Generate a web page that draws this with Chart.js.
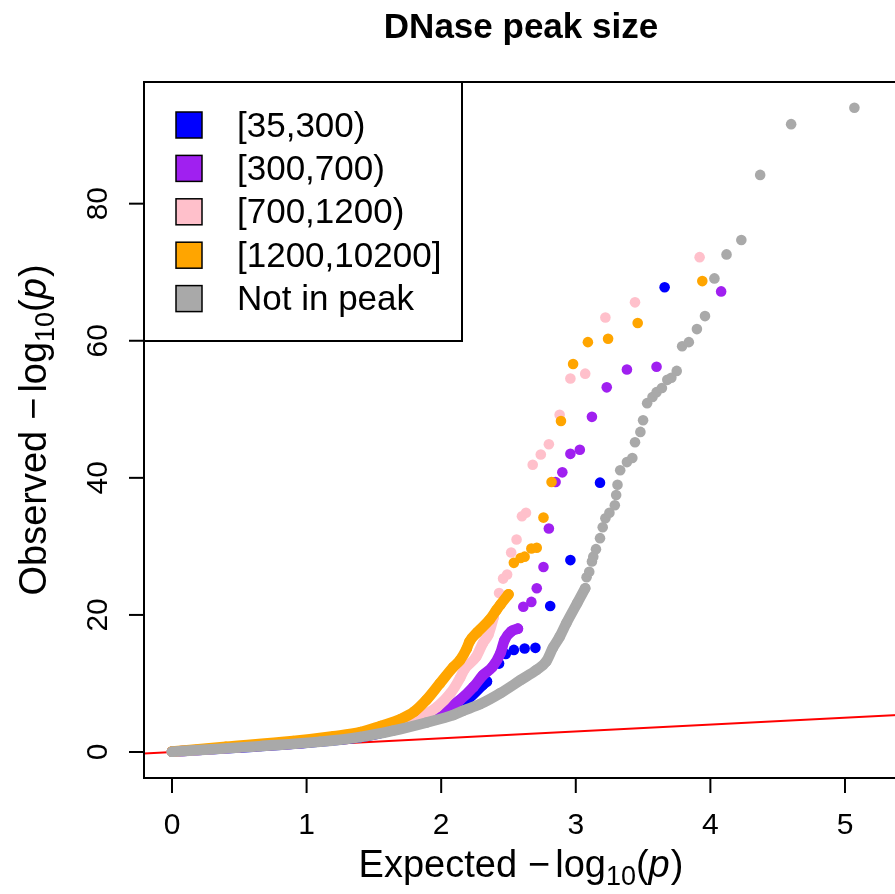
<!DOCTYPE html>
<html>
<head>
<meta charset="utf-8">
<script src="https://cdn.jsdelivr.net/npm/chart.js@4.4.0/dist/chart.umd.min.js"></script>
<style>
  html, body { margin: 0; padding: 0; overflow: hidden; background: #fff; }
  canvas { display: block; }
</style>
</head>
<body>
<canvas id="qq" width="905" height="894"></canvas>
<script>
// legend / series info
const seriesNames = ['[35,300)', '[300,700)', '[700,1200)', '[1200,10200]', 'Not in peak'];
const seriesColors = ['#0000FF', '#A020F0', '#FFC0CB', '#FFA500', '#A9A9A9'];
const xTicks = [0, 1, 2, 3, 4, 5];
const yTicks = [0, 20, 40, 60, 80];
const refLine = [-0.5, 6];   // y = x

// dense part of each curve (points overlap into a band), [expected, observed]
const blueBand = [[0, 0.05], [0.5, 0.65], [1.0, 1.35], [1.4, 2.2], [1.64, 3.2], [1.84, 4.3], [1.99, 5.5],
  [2.09, 6.6], [2.19, 7.6], [2.31, 9.8], [2.34, 10.3]];
const purpleBand = [[0, 0.05], [0.5, 0.7], [1.0, 1.4], [1.4, 2.3], [1.64, 3.3], [1.84, 4.4], [1.99, 5.6],
  [2.14, 7.6], [2.24, 9.5], [2.31, 11.2], [2.38, 12.4], [2.44, 14.4], [2.47, 16.3], [2.52, 17.6], [2.57, 18.0]];
const pinkBand = [[0, 0.05], [0.5, 0.75], [1.0, 1.5], [1.4, 2.6], [1.64, 3.7], [1.84, 5.1], [1.97, 6.6],
  [2.07, 8.6], [2.14, 10.8], [2.17, 12.0], [2.26, 13.9], [2.31, 15.9], [2.35, 17.1], [2.39, 19.7]];
const orangeBand = [[0, 0.08], [0.4, 0.75], [0.9, 1.6], [1.2, 2.3], [1.4, 2.9], [1.55, 3.8], [1.7, 4.8],
  [1.8, 5.9], [1.89, 7.6], [1.99, 10.0], [2.09, 12.4], [2.14, 13.4], [2.19, 15.1], [2.21, 16.1], [2.27, 17.5],
  [2.36, 19.3], [2.41, 20.7], [2.44, 21.5], [2.5, 23.0]];
const greyBand = [[0, 0.05], [0.3, 0.4], [0.65, 0.85], [1.1, 1.5], [1.4, 2.2], [1.64, 3.1], [1.89, 4.3],
  [2.09, 5.4], [2.16, 6.0], [2.29, 7.0], [2.44, 8.6], [2.59, 10.5], [2.71, 12.0], [2.78, 13.2], [2.83, 15.2],
  [2.88, 16.8], [2.93, 18.8], [3.01, 21.7], [3.07, 23.9]];

// sparse upper tails
const blueTail = [[2.43, 12.9], [2.48, 14.3], [2.54, 14.9], [2.62, 15.1], [2.7, 15.2], [2.81, 21.3],
  [2.96, 28.0], [3.18, 39.3], [3.66, 67.8]];
const purpleTail = [[2.61, 21.2], [2.67, 21.9], [2.71, 23.9], [2.76, 27.0], [2.8, 32.6], [2.85, 39.4],
  [2.9, 40.8], [2.96, 43.5], [3.03, 44.1], [3.12, 48.9], [3.23, 53.2], [3.38, 55.8], [3.6, 56.2], [4.08, 67.2]];
const pinkTail = [[2.43, 23.2], [2.46, 25.3], [2.49, 25.9], [2.52, 29.1], [2.56, 31.0], [2.6, 34.4],
  [2.63, 34.9], [2.68, 41.9], [2.74, 43.4], [2.8, 44.9], [2.88, 49.2], [2.96, 54.5], [3.07, 55.2],
  [3.22, 63.4], [3.44, 65.6], [3.92, 72.2]];
const orangeTail = [[2.54, 27.6], [2.59, 28.3], [2.62, 28.5], [2.67, 29.7], [2.71, 29.8], [2.76, 34.2],
  [2.82, 39.4], [2.89, 48.3], [2.98, 56.6], [3.09, 59.8], [3.24, 60.3], [3.46, 62.6], [3.94, 68.7]];
const greyTail = [[3.08, 25.5], [3.1, 26.3], [3.12, 27.8], [3.13, 28.5], [3.15, 29.6], [3.18, 31.2],
  [3.2, 32.8], [3.22, 34.1], [3.25, 34.9], [3.29, 36.0], [3.3, 37.5], [3.31, 39.0], [3.33, 41.1],
  [3.38, 42.3], [3.42, 42.9], [3.44, 45.2], [3.48, 46.7], [3.5, 48.4], [3.53, 50.9], [3.57, 51.8],
  [3.6, 52.5], [3.64, 53.1], [3.68, 54.3], [3.71, 54.6], [3.75, 55.6], [3.79, 59.2], [3.84, 59.8],
  [3.9, 61.7], [3.96, 63.6], [4.03, 69.1], [4.12, 72.6], [4.23, 74.7], [4.37, 84.2], [4.6, 91.6], [5.07, 94.0]];

const bands = [blueBand, purpleBand, pinkBand, orangeBand, greyBand];
const tails = [blueTail, purpleTail, pinkTail, orangeTail, greyTail];

const FONT = '"Liberation Sans", Arial, Helvetica, sans-serif';
const toPts = arr => arr.map(p => ({ x: p[0], y: p[1] }));

const datasets = [];
// grey drawn last (on top), blue first
const drawOrder = [4, 3, 2, 1, 0];
seriesNames.forEach((name, i) => {
  datasets.push({
    label: name,
    data: toPts(bands[i]),
    showLine: true,
    cubicInterpolationMode: 'monotone',
    borderColor: seriesColors[i],
    backgroundColor: seriesColors[i],
    borderWidth: 10.6,
    borderCapStyle: 'round',
    borderJoinStyle: 'round',
    pointRadius: 5.3,
    pointBorderWidth: 0,
    order: drawOrder[i]
  });
  datasets.push({
    label: name + ' tail',
    data: toPts(tails[i]),
    showLine: false,
    backgroundColor: seriesColors[i],
    pointRadius: 5.3,
    pointBorderWidth: 0,
    order: drawOrder[i]
  });
});
datasets.push({
  label: 'y = x',
  data: refLine.map(v => ({ x: v, y: v })),
  showLine: true,
  borderColor: '#FF0000',
  borderWidth: 2,
  pointRadius: 0,
  order: 10
});

function drawLogLabel(ctx, prefix, cx, baseline) {
  const big = 38, small = 27;
  const parts = [
    { t: prefix, f: big + 'px ' + FONT, dy: 0, gap: 11 },
    { t: '\u2212', f: big + 'px ' + FONT, dy: 0, gap: 5 },
    { t: 'log', f: big + 'px ' + FONT, dy: 0, gap: 0 },
    { t: '10', f: small + 'px ' + FONT, dy: 8, gap: 0 },
    { t: '(', f: big + 'px ' + FONT, dy: 0, gap: 0 },
    { t: 'p', f: 'italic ' + big + 'px ' + FONT, dy: 0, gap: 1 },
    { t: ')', f: big + 'px ' + FONT, dy: 0, gap: 0 }
  ];
  let total = 0;
  parts.forEach(p => { ctx.font = p.f; p.w = ctx.measureText(p.t).width; total += p.w + p.gap; });
  let x = cx - total / 2;
  ctx.textAlign = 'left';
  ctx.textBaseline = 'alphabetic';
  parts.forEach(p => { ctx.font = p.f; ctx.fillText(p.t, x, baseline + p.dy); x += p.w + p.gap; });
}

const frame = {
  id: 'frame',
  afterDraw(chart) {
    const ctx = chart.ctx, a = chart.chartArea;
    const xs = chart.scales.x, ys = chart.scales.y;
    ctx.save();
    ctx.strokeStyle = '#000';
    ctx.fillStyle = '#000';
    ctx.lineWidth = 2;
    ctx.strokeRect(a.left, a.top, a.right - a.left, a.bottom - a.top);

    // x axis
    ctx.font = '30px ' + FONT;
    ctx.textAlign = 'center';
    ctx.textBaseline = 'alphabetic';
    xTicks.forEach(v => {
      const px = xs.getPixelForValue(v);
      ctx.beginPath(); ctx.moveTo(px, a.bottom); ctx.lineTo(px, a.bottom + 15); ctx.stroke();
      ctx.fillText(String(v), px, a.bottom + 56);
    });
    // y axis
    yTicks.forEach(v => {
      const py = ys.getPixelForValue(v);
      ctx.beginPath(); ctx.moveTo(a.left - 15, py); ctx.lineTo(a.left, py); ctx.stroke();
      ctx.save();
      ctx.translate(a.left - 37, py);
      ctx.rotate(-Math.PI / 2);
      ctx.fillText(String(v), 0, 0);
      ctx.restore();
    });

    // axis titles
    const cx = (a.left + a.right) / 2, cy = (a.top + a.bottom) / 2;
    drawLogLabel(ctx, 'Expected', cx, a.bottom + 99);
    ctx.save();
    ctx.translate(a.left - 98, cy);
    ctx.rotate(-Math.PI / 2);
    drawLogLabel(ctx, 'Observed', 0, 0);
    ctx.restore();

    // main title
    ctx.font = 'bold 35px ' + FONT;
    ctx.textAlign = 'center';
    ctx.fillText('DNase peak size', cx, 38);

    // legend
    const lw = 318, lh = 259;
    ctx.fillStyle = '#fff';
    ctx.fillRect(a.left, a.top, lw, lh);
    ctx.strokeRect(a.left, a.top, lw, lh);
    ctx.font = '35px ' + FONT;
    ctx.textAlign = 'left';
    ctx.textBaseline = 'middle';
    seriesNames.forEach((name, i) => {
      const yc = a.top + 43 + i * 43.4;
      ctx.fillStyle = seriesColors[i];
      ctx.fillRect(a.left + 32, yc - 13, 26, 26);
      ctx.lineWidth = 1.5;
      ctx.strokeStyle = '#000';
      ctx.strokeRect(a.left + 32, yc - 13, 26, 26);
      ctx.fillStyle = '#000';
      ctx.fillText(name, a.left + 93, yc + 2);
    });
    ctx.restore();
  }
};

new Chart(document.getElementById('qq'), {
  type: 'scatter',
  data: { datasets },
  options: {
    responsive: false,
    animation: false,
    devicePixelRatio: 1,
    layout: { padding: { left: 144, top: 82, right: 7, bottom: 116 } },
    plugins: { legend: { display: false }, tooltip: { enabled: false } },
    scales: {
      x: { type: 'linear', display: false, min: -0.208, max: 5.394 },
      y: { type: 'linear', display: false, min: -3.79, max: 97.75 }
    }
  },
  plugins: [frame]
});
</script>
</body>
</html>
